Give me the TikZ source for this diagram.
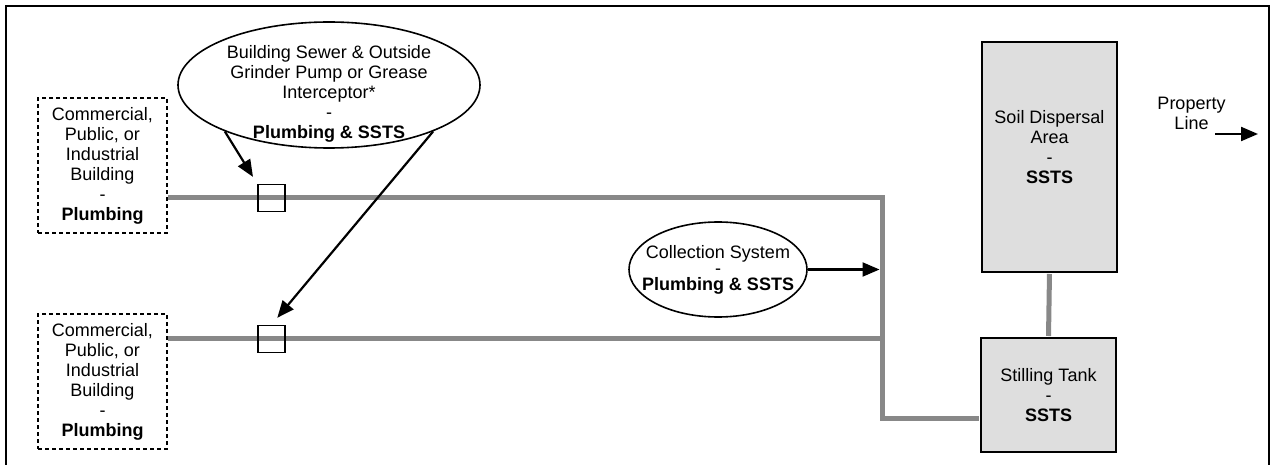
\documentclass[tikz,border=0pt]{standalone}
\usepackage{fontspec}
\setmainfont{Liberation Sans}
\usetikzlibrary{arrows.meta,shapes.geometric,positioning,calc}

\definecolor{pipegray}{HTML}{888888}
\definecolor{tankgray}{HTML}{DEDEDE}

\tikzset{
  building/.style={draw, dash pattern=on 4pt off 3pt, line width=1.6pt, minimum width=129pt, minimum height=135pt, align=center, inner sep=0pt},
  tank/.style={draw, fill=tankgray, line width=2pt, minimum width=135pt, align=center, inner sep=0pt},
  note/.style={draw, ellipse, line width=1.6pt, inner sep=0pt},
  valve/.style={draw, line width=1.6pt, minimum size=27pt, inner sep=0pt},
  pipe/.style={draw=pipegray, line width=5pt},
  pointer/.style={line width=2.2pt, -{Triangle[length=17pt,width=14pt]}},
}

\begin{document}
\begin{tikzpicture}[x=1pt,y=-1pt,font=\fontsize{18}{20}\selectfont]
\useasboundingbox (0,0) rectangle (1272,465);
% frame
\draw[line width=2pt] (6,466) -- (6,6) -- (1269,6) -- (1269,466);

% buildings
\node[building] (bldga) at (102.5,165.5) {Commercial,\\Public, or\\Industrial\\Building\\-\\\textbf{Plumbing}};
\node[building] (bldgb) at (102.5,381.5) {Commercial,\\Public, or\\Industrial\\Building\\-\\\textbf{Plumbing}};

% tanks
\node[tank, minimum height=230pt] (soil) at (1049.5,157) {};
\node[align=center] (soiltxt) at ([yshift=10pt]soil.center) {Soil Dispersal\\Area\\-\\\textbf{SSTS}};
\node[tank, minimum height=114pt] (still) at (1048.5,395) {Stilling Tank\\-\\\textbf{SSTS}};

% pipe bends
\coordinate (jtop) at (882,198);
\coordinate (jmid) at (882,338);
\coordinate (jbot) at (882,418);

% pipes
\draw[pipe, shorten >=1pt] (bldga.east |- jtop) -- (jtop) -- (jbot) -- (jbot -| still.west);
\draw[pipe] (bldgb.east |- jmid) -- (jmid);
\draw[pipe, shorten <=1pt, shorten >=1pt] (soil.south) -- (still.north);

% valves
\node[valve] (valvea) at (271.5,198) {};
\node[valve] (valveb) at (271.5,339) {};

% notes
\node[note, minimum width=302pt, minimum height=126pt] (sewer) at (329,85) {};
\node[align=center] (sewertxt) at (329,94) {Building Sewer \& Outside\\Grinder Pump or Grease\\Interceptor*\\-\\\textbf{Plumbing \& SSTS}};
\node[note, minimum width=178pt, minimum height=95pt] (collect) at (718,269.5) {};
\node[align=center] (collecttxt) at (718,270) {Collection System\\[-4pt]-\\[-4pt]\textbf{Plumbing \& SSTS}};

% pointers
\draw[pointer, shorten >=8pt] (sewer.204) -- (valvea.north west);
\draw[pointer, shorten >=9pt] (sewer.336) -- (valveb.north);
\draw[pointer, shorten >=2.5pt] (collect.east) -- (collect.east -| jtop);

% property line
\node[align=center] (propline) at (1191.5,113) {Property\\Line};
\coordinate (propa) at (1215,134);
\coordinate (propb) at (1258,134);
\draw[pointer] (propa) -- (propb);
\end{tikzpicture}
\end{document}
